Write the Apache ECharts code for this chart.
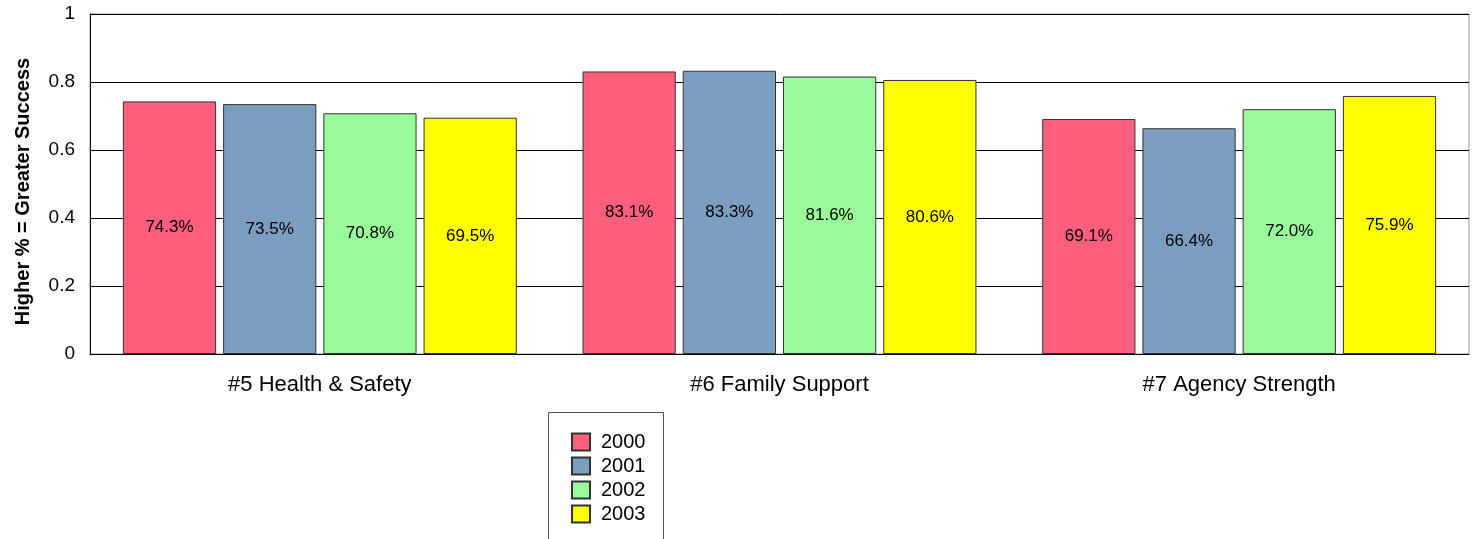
<!DOCTYPE html>
<html><head><meta charset="utf-8">
<script src="https://cdn.jsdelivr.net/npm/echarts@6/dist/echarts.min.js"></script>
<style>html,body{margin:0;padding:0;background:#fff}#c{width:1478px;height:539px}</style>
</head><body><div id="c"></div>
<script>
const categories = ['#5 Health & Safety', '#6 Family Support', '#7 Agency Strength'];
const years = ['2000', '2001', '2002', '2003'];
const v2000 = [0.743, 0.831, 0.691];
const v2001 = [0.735, 0.833, 0.664];
const v2002 = [0.708, 0.816, 0.720];
const v2003 = [0.695, 0.806, 0.759];
const yTicks = [0, 0.2, 0.4, 0.6, 0.8, 1];
const colors = ['#FF5F7C', '#7A9DC0', '#99FA99', '#FFFF00'];
const seriesValues = [v2000, v2001, v2002, v2003];

const FONT = 'Liberation Sans, Arial, sans-serif';
const chart = echarts.init(document.getElementById('c'));
chart.setOption({
  animation: false,
  textStyle: { fontFamily: FONT },
  grid: { left: 90, right: 9, top: 14, bottom: 185, outerBoundsMode: 'none', containLabel: false,
    show: true, borderColor: '#999', borderWidth: 1, backgroundColor: 'transparent' },
  graphic: [{
    type: 'rect', left: 548, top: 412, silent: true,
    shape: { width: 115, height: 140 },
    style: { fill: '#fff', stroke: '#555', lineWidth: 1 }, z: 0
  }],
  legend: {
    orient: 'vertical', left: 571, top: 432,
    data: years,
    itemWidth: 18, itemHeight: 17, itemGap: 4,
    padding: 0,
    icon: 'rect',
    z: 10,
    textStyle: { fontSize: 20, color: '#000', fontFamily: FONT, padding: [0, 0, 0, 6] }
  },
  xAxis: {
    type: 'category', data: categories,
    axisLine: { lineStyle: { color: '#000', width: 1 } },
    axisTick: { show: false },
    axisLabel: { fontSize: 22, color: '#000', margin: 20, fontFamily: FONT }
  },
  yAxis: {
    type: 'value', min: 0, max: 1, interval: 0.2,
    name: 'Higher % = Greater Success', nameLocation: 'middle', nameGap: 57,
    nameTextStyle: { fontSize: 20, fontWeight: 'bold', color: '#000', fontFamily: FONT, padding: [0, 15, 0, 0] },
    axisLine: { show: true, lineStyle: { color: '#000' } },
    axisTick: { show: false },
    splitLine: { lineStyle: { color: '#000', width: 1 } },
    axisLabel: { fontSize: 19, color: '#000', margin: 15, fontFamily: FONT,
      formatter: v => { const t = yTicks.find(x => Math.abs(x - v) < 1e-9); return t === undefined ? '' : String(t); } }
  },
  series: years.map((y, i) => ({
    name: y, type: 'bar', data: seriesValues[i],
    barGap: '7.5%', barCategoryGap: '14.3%',
    itemStyle: { color: colors[i], borderColor: '#333', borderWidth: 1 },
    label: { show: true, position: 'inside', fontSize: 17, color: '#000', fontFamily: FONT,
      formatter: p => (p.value * 100).toFixed(1) + '%' }
  }))
});
</script></body></html>
